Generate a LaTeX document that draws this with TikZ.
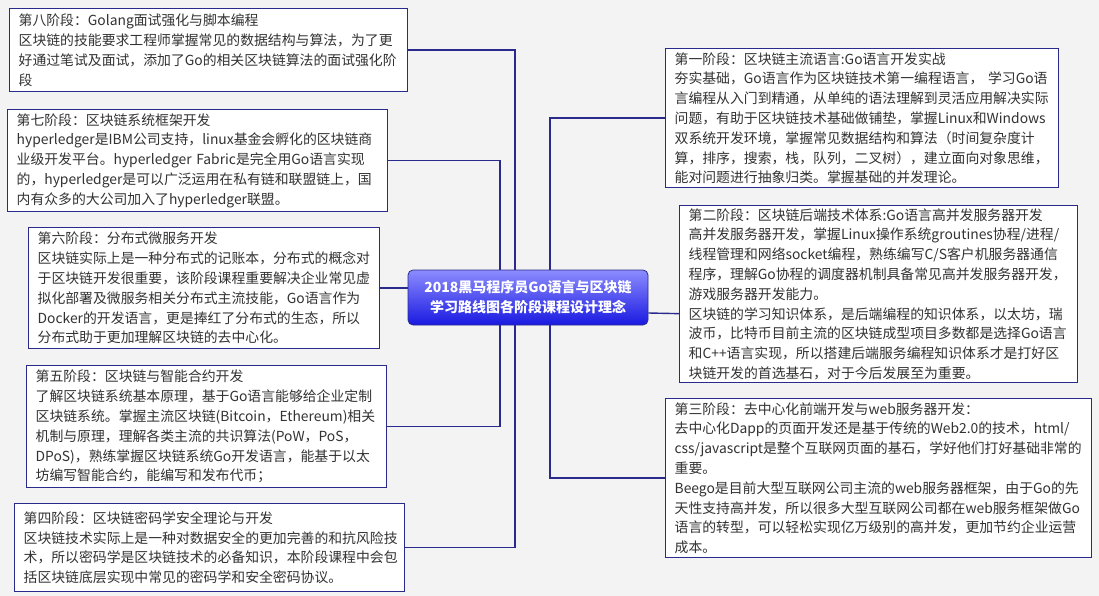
\documentclass[tikz,border=0pt]{standalone}
\usepackage{fontspec}
\setmainfont{Noto Sans CJK SC}
\definecolor{bg}{RGB}{243,243,244}
\definecolor{navy}{RGB}{42,42,140}
\definecolor{txt}{RGB}{50,50,50}
\definecolor{ctop}{RGB}{140,140,255}
\definecolor{cbot}{RGB}{25,25,225}
\tikzset{
  stage/.style={draw=navy, line width=1.3pt, fill=white, anchor=north west, align=left,
    text=txt, inner xsep=9pt, inner ysep=2pt,
    font=\fontsize{13.85pt}{19.8pt}\selectfont},
  hub/.style={draw=navy, line width=0.8pt, rounded corners=5pt, top color=ctop, bottom color=cbot,
    text=white, align=center, minimum width=240pt, minimum height=55pt, inner sep=2pt,
    font=\fontsize{14pt}{20pt}\selectfont\bfseries},
  conn/.style={draw=navy, line width=1.4pt},
}
\begin{document}
\begin{tikzpicture}[x=1pt,y=-1pt]
\useasboundingbox[fill=bg] (0,0) rectangle (1099,596);

% centre
\node[hub] (c) at (528,297.5) {2018黑马程序员Go语言与区块链\\学习路线图各阶段课程设计理念};

% left side
\node[stage, minimum width=398pt, minimum height=83pt, text width=380pt] (b8) at (9,8)
{第八阶段：Golang面试强化与脚本编程\\
区块链的技能要求工程师掌握常见的数据结构与算法，为了更\\
好通过笔试及面试，添加了Go的相关区块链算法的面试强化阶\\
段};

\node[stage, minimum width=380pt, minimum height=102pt, text width=362pt] (b7) at (7,109)
{第七阶段：区块链系统框架开发\\
hyperledger是IBM公司支持，linux基金会孵化的区块链商\\
业级开发平台。hyperledger Fabric是完全用Go语言实现\\
的，hyperledger是可以广泛运用在私有链和联盟链上，国\\
内有众多的大公司加入了hyperledger联盟。};

\node[stage, minimum width=351pt, minimum height=121pt, text width=333pt] (b6) at (28,227)
{第六阶段：分布式微服务开发\\
区块链实际上是一种分布式的记账本，分布式的概念对\\
于区块链开发很重要，该阶段课程重要解决企业常见虚\\
拟化部署及微服务相关分布式主流技能，Go语言作为\\
Docker的开发语言，更是捧红了分布式的生态，所以\\
分布式助于更加理解区块链的去中心化。};

\node[stage, minimum width=360pt, minimum height=122pt, text width=342pt] (b5) at (26,365)
{第五阶段：区块链与智能合约开发\\
了解区块链系统基本原理，基于Go语言能够给企业定制\\
区块链系统。掌握主流区块链(Bitcoin，Ethereum)相关\\
机制与原理，理解各类主流的共识算法(PoW，PoS，\\
DPoS)，熟练掌握区块链系统Go开发语言，能基于以太\\
坊编写智能合约，能编写和发布代币；};

\node[stage, minimum width=390pt, minimum height=88pt, text width=372pt] (b4) at (14,503)
{第四阶段：区块链密码学安全理论与开发\\
区块链技术实际上是一种对数据安全的更加完善的和抗风险技\\
术，所以密码学是区块链技术的必备知识，本阶段课程中会包\\
括区块链底层实现中常见的密码学和安全密码协议。};

% right side
\node[stage, minimum width=393pt, minimum height=139pt, text width=375pt] (b1) at (665,48)
{第一阶段：区块链主流语言:Go语言开发实战\\
夯实基础，Go语言作为区块链技术第一编程语言， 学习Go语\\
言编程从入门到精通，从单纯的语法理解到灵活应用解决实际\\
问题，有助于区块链技术基础做铺垫，掌握Linux和Windows\\
双系统开发环境，掌握常见数据结构和算法（时间复杂度计\\
算，排序，搜索，栈，队列，二叉树），建立面向对象思维，\\
能对问题进行抽象归类。掌握基础的并发理论。};

\node[stage, minimum width=398pt, minimum height=177pt, text width=380pt] (b2) at (679,205)
{第二阶段：区块链后端技术体系:Go语言高并发服务器开发\\
高并发服务器开发，掌握Linux操作系统groutines协程/进程/\\
线程管理和网络socket编程，熟练编写C/S客户机服务器通信\\
程序，理解Go协程的调度器机制具备常见高并发服务器开发，\\
游戏服务器开发能力。\\
区块链的学习知识体系，是后端编程的知识体系，以太坊，瑞\\
波币，比特币目前主流的区块链成型项目多数都是选择Go语言\\
和C++语言实现，所以搭建后端服务编程知识体系才是打好区\\
块链开发的首选基石，对于今后发展至为重要。};

\node[stage, minimum width=426pt, minimum height=159pt, text width=408pt] (b3) at (665,398)
{第三阶段：去中心化前端开发与web服务器开发：\\
去中心化Dapp的页面开发还是基于传统的Web2.0的技术，html/\\
css/javascript是整个互联网页面的基石，学好他们打好基础非常的\\
重要。\\
Beego是目前大型互联网公司主流的web服务器框架，由于Go的先\\
天性支持高并发，所以很多大型互联网公司都在web服务框架做Go\\
语言的转型，可以轻松实现亿万级别的高并发，更加节约企业运营\\
成本。};

% connectors
\draw[conn] (b8.east) -| ([xshift=-13pt]c.north);
\draw[conn] (b7.east) -| ([xshift=-28pt]c.north);
\draw[conn] (b1.west) -| ([xshift=22pt]c.north);
\draw[conn] (b6.east) -- (c.west |- b6.east);
\draw[conn] ([yshift=-15.5pt]c.east) -- ([yshift=-19.5pt]b2.west);
\draw[conn] (b5.east) -| ([xshift=-28pt]c.south);
\draw[conn] (b4.east) -| ([xshift=-13pt]c.south);
\draw[conn] (b3.west) -| ([xshift=22pt]c.south);
\end{tikzpicture}
\end{document}
